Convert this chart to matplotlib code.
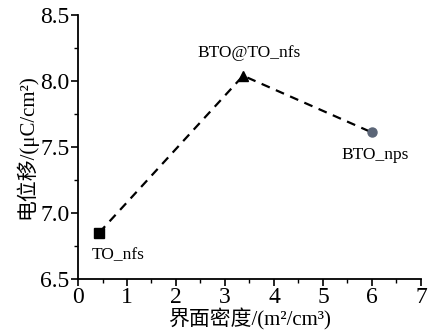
import matplotlib
matplotlib.use("Agg")
import matplotlib.pyplot as plt
from matplotlib.ticker import MultipleLocator

plt.rcParams['font.family'] = ['Liberation Serif', 'Noto Sans CJK SC']

names = ["TO_nfs", "BTO@TO_nfs", "BTO_nps"]
x_vals = [0.43, 3.37, 6.0]
y_vals = [6.85, 8.04, 7.61]
markers = ["s", "^", "o"]
colors = ["black", "black", "#5b6577"]
label_offsets = [(14, -16), (4, 16), (2, -16)]

fig = plt.figure(figsize=(4.28, 3.33), dpi=100)
ax = fig.add_axes([78/428, 1-279/333, (421-78)/428, (279-15)/333])

ax.plot(x_vals, y_vals, linestyle=(0, (4, 3)), color="black", lw=1.6, zorder=1)
for x, y, m, c, n, off in zip(x_vals, y_vals, markers, colors, names, label_offsets):
    ax.plot([x], [y], marker=m, color=c, markersize=7 if m != "o" else 6.5, linestyle="none", zorder=3)
    ax.annotate(n, (x, y), xytext=off, textcoords="offset points", ha="center", va="center", fontsize=12.5)

ax.set_xlim(0, 7)
ax.set_ylim(6.5, 8.5)
ax.xaxis.set_major_locator(MultipleLocator(1))
ax.xaxis.set_minor_locator(MultipleLocator(0.5))
ax.yaxis.set_minor_locator(MultipleLocator(0.25))
ax.set_yticks([6.5, 7.0, 7.5, 8.0, 8.5])
ax.set_yticklabels(["6.5", "7.0", "7.5", "8.0", "8.5"])
ax.tick_params(axis="both", which="major", labelsize=17, direction="out", length=5, width=1.2, pad=1)
ax.tick_params(axis="both", which="minor", direction="out", length=3, width=1.0)
for s in ["top", "right"]:
    ax.spines[s].set_visible(False)
for s in ["left", "bottom"]:
    ax.spines[s].set_linewidth(1.3)

ax.set_xlabel("界面密度/(m²/cm³)", fontsize=15, labelpad=0)
ax.set_ylabel("电位移/(μC/cm²)", fontsize=15, labelpad=2)

fig.savefig("out.png", dpi=100)
